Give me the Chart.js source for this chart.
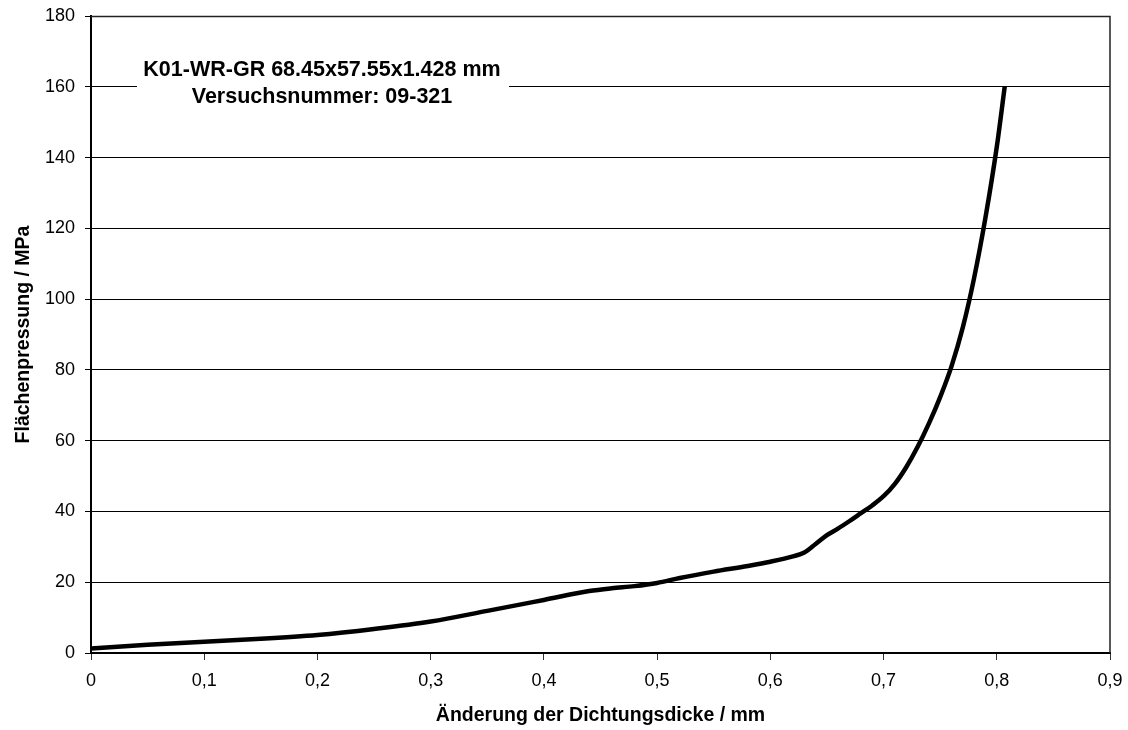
<!DOCTYPE html>
<html>
<head>
<meta charset="utf-8">
<title>Flächenpressung über Änderung der Dichtungsdicke</title>
<script src="https://cdn.jsdelivr.net/npm/chart.js@4"></script>
<style>
  html, body { margin: 0; padding: 0; background: #fff; }
  #wrap { width: 1128px; height: 730px; }
</style>
</head>
<body>
<div id="wrap"><canvas id="c" width="1128" height="730"></canvas></div>
<script>
// Measured curve: change of gasket thickness (mm) vs. surface pressure (MPa)
const thickness = [0, 0.05, 0.1, 0.15, 0.2, 0.25, 0.3, 0.35, 0.4, 0.44, 0.46, 0.48, 0.5, 0.52,
  0.55, 0.58, 0.6, 0.62, 0.63, 0.64, 0.65, 0.66, 0.67, 0.68, 0.69, 0.7, 0.71, 0.72, 0.73,
  0.74, 0.75, 0.76, 0.77, 0.78, 0.79, 0.8, 0.807];
const pressure = [1.3, 2.3, 3.2, 4.0, 5.1, 6.8, 8.9, 11.9, 15.0, 17.5, 18.3, 18.9, 19.8, 21.2,
  23.0, 24.6, 25.8, 27.3, 28.4, 30.8, 33.3, 35.2, 37.3, 39.5, 41.7, 44.3, 47.8, 52.5, 58.2,
  64.8, 72.3, 81, 92, 106, 123, 143, 160];

const xTickLabels = ['0', '0,1', '0,2', '0,3', '0,4', '0,5', '0,6', '0,7', '0,8', '0,9'];
const yTickLabels = ['0', '20', '40', '60', '80', '100', '120', '140', '160', '180'];

const xTitle = 'Änderung der Dichtungsdicke / mm';
const yTitle = 'Flächenpressung / MPa';
const noteLines = ['K01-WR-GR 68.45x57.55x1.428 mm', 'Versuchsnummer: 09-321'];

const FONT = '"Liberation Sans", Arial, Helvetica, sans-serif';

// Frame around the plot area and the white note box with the sample description
const framePlugin = {
  id: 'frameAndNote',
  afterDraw(chart) {
    const { ctx, chartArea: a } = chart;
    ctx.save();
    // note box (covers the grid line behind it)
    ctx.fillStyle = '#fff';
    ctx.fillRect(137, 54, 372, 56);
    ctx.fillStyle = '#000';
    ctx.font = 'bold 21.5px ' + FONT;
    ctx.textAlign = 'center';
    ctx.textBaseline = 'middle';
    ctx.fillText(noteLines[0], 322, 70);
    ctx.fillText(noteLines[1], 322, 97);
    // top and right edges of the plot frame
    ctx.strokeStyle = '#222';
    ctx.lineWidth = 1.5;
    ctx.beginPath();
    ctx.moveTo(a.left, a.top + 0.5);
    ctx.lineTo(a.right, a.top + 0.5);
    ctx.lineTo(a.right, a.bottom);
    ctx.stroke();
    ctx.restore();
  }
};

new Chart(document.getElementById('c'), {
  type: 'line',
  data: {
    datasets: [{
      data: thickness.map((x, i) => ({ x, y: pressure[i] })),
      borderColor: '#000',
      borderWidth: 4.5,
      pointRadius: 0,
      cubicInterpolationMode: 'monotone',
      fill: false
    }]
  },
  options: {
    responsive: false,
    animation: false,
    layout: { padding: { top: 16, right: 18, left: 0, bottom: 0 } },
    plugins: { legend: { display: false }, tooltip: { enabled: false } },
    scales: {
      x: {
        type: 'linear',
        min: 0,
        max: 0.9,
        afterFit(s) { s.height = 77; s.paddingLeft = 0; s.paddingRight = 0; },
        ticks: {
          stepSize: 0.1,
          color: '#000',
          padding: 10,
          maxRotation: 0,
          font: { family: FONT, size: 18 },
          callback: (v, i) => xTickLabels[i]
        },
        grid: { drawOnChartArea: false, drawTicks: true, tickLength: 7, color: '#333' },
        border: { display: true, color: '#000', width: 2 },
        title: {
          display: true,
          text: xTitle,
          color: '#000',
          font: { family: FONT, size: 19.5, weight: 'bold' },
          padding: { top: 0, bottom: 3 }
        }
      },
      y: {
        min: 0,
        max: 180,
        afterFit(s) { s.width = 91; s.paddingTop = 0; s.paddingBottom = 0; },
        ticks: {
          stepSize: 20,
          color: '#000',
          padding: 10,
          font: { family: FONT, size: 18 },
          callback: (v, i) => yTickLabels[i]
        },
        grid: { color: '#000', lineWidth: 1, tickLength: 6 },
        border: { display: true, color: '#000', width: 2 },
        title: {
          display: true,
          text: yTitle,
          color: '#000',
          font: { family: FONT, size: 19.5, weight: 'bold' },
          padding: { top: 12, bottom: 0 }
        }
      }
    }
  },
  plugins: [framePlugin]
});
</script>
</body>
</html>
